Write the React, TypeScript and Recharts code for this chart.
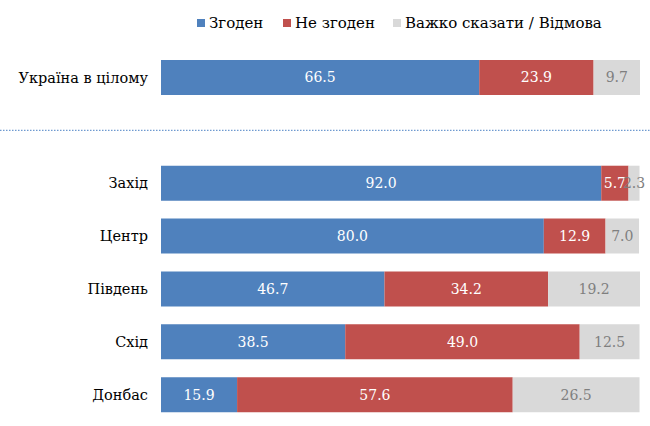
import React from "react";
import { BarChart, Bar, XAxis, YAxis, LabelList, ReferenceLine } from "recharts";

const regions = ["Україна в цілому", " ", "Захід", "Центр", "Південь", "Схід", "Донбас"];
const agree = [66.5, null, 92.0, 80.0, 46.7, 38.5, 15.9];
const disagree = [23.9, null, 5.7, 12.9, 34.2, 49.0, 57.6];
const hardToSay = [9.7, null, 2.3, 7.0, 19.2, 12.5, 26.5];

const seriesNames = ["Згоден", "Не згоден", "Важко сказати / Відмова"];
const colors = ["#4F81BD", "#C0504D", "#D9D9D9"];

const data = regions.map((region, i) => ({
  region,
  agree: agree[i],
  disagree: disagree[i],
  hard: hardToSay[i],
}));

const font = "'DejaVu Serif', serif";

const fmt = (v: any) => (v == null ? "" : Number(v).toFixed(1));

// legend square positions (x, px)
const legendX = [197, 283, 393];

function FullWidthDotted(props: any) {
  const y = props.y1 ?? props.y;
  return <line x1={0} x2={650} y1={y} y2={y} stroke="#6F9AD0" strokeWidth={1.3} strokeDasharray="1.5 1.5" />;
}

export default function App() {
  return (
    <div style={{ position: "absolute", left: 0, top: 0, width: 650, height: 426, background: "#fff", fontFamily: font }}>
      {seriesNames.map((name, i) => (
        <div
          key={name}
          style={{ position: "absolute", top: 13, left: legendX[i], display: "flex", alignItems: "center", fontSize: 15, lineHeight: "20px", color: "#000", whiteSpace: "nowrap" }}
        >
          <span style={{ width: 8, height: 8, background: colors[i], marginRight: 4, display: "inline-block" }} />
          <span>{name}</span>
        </div>
      ))}
      <BarChart
        width={650}
        height={426}
        data={data}
        layout="vertical"
        margin={{ top: 51, right: 10, bottom: 5, left: 0 }}
        barSize={35}
      >
        <XAxis type="number" domain={[0, 100]} hide />
        <YAxis
          type="category"
          dataKey="region"
          width={161}
          axisLine={false}
          tickLine={false}
          tickMargin={7}
          tick={{ fontFamily: font, fontSize: 14.5, fill: "#000" }}
        />
        <ReferenceLine y=" " shape={<FullWidthDotted />} ifOverflow="visible" />
        <Bar dataKey="agree" stackId="a" fill={colors[0]} isAnimationActive={false}>
          <LabelList dataKey="agree" position="center" formatter={fmt} fill="#fff" fontFamily={font} fontSize={14} />
        </Bar>
        <Bar dataKey="disagree" stackId="a" fill={colors[1]} isAnimationActive={false}>
          <LabelList dataKey="disagree" position="center" formatter={fmt} fill="#fff" fontFamily={font} fontSize={14} />
        </Bar>
        <Bar dataKey="hard" stackId="a" fill={colors[2]} isAnimationActive={false}>
          <LabelList dataKey="hard" position="center" formatter={fmt} fill="#7F7F7F" fontFamily={font} fontSize={14} />
        </Bar>
      </BarChart>
    </div>
  );
}
